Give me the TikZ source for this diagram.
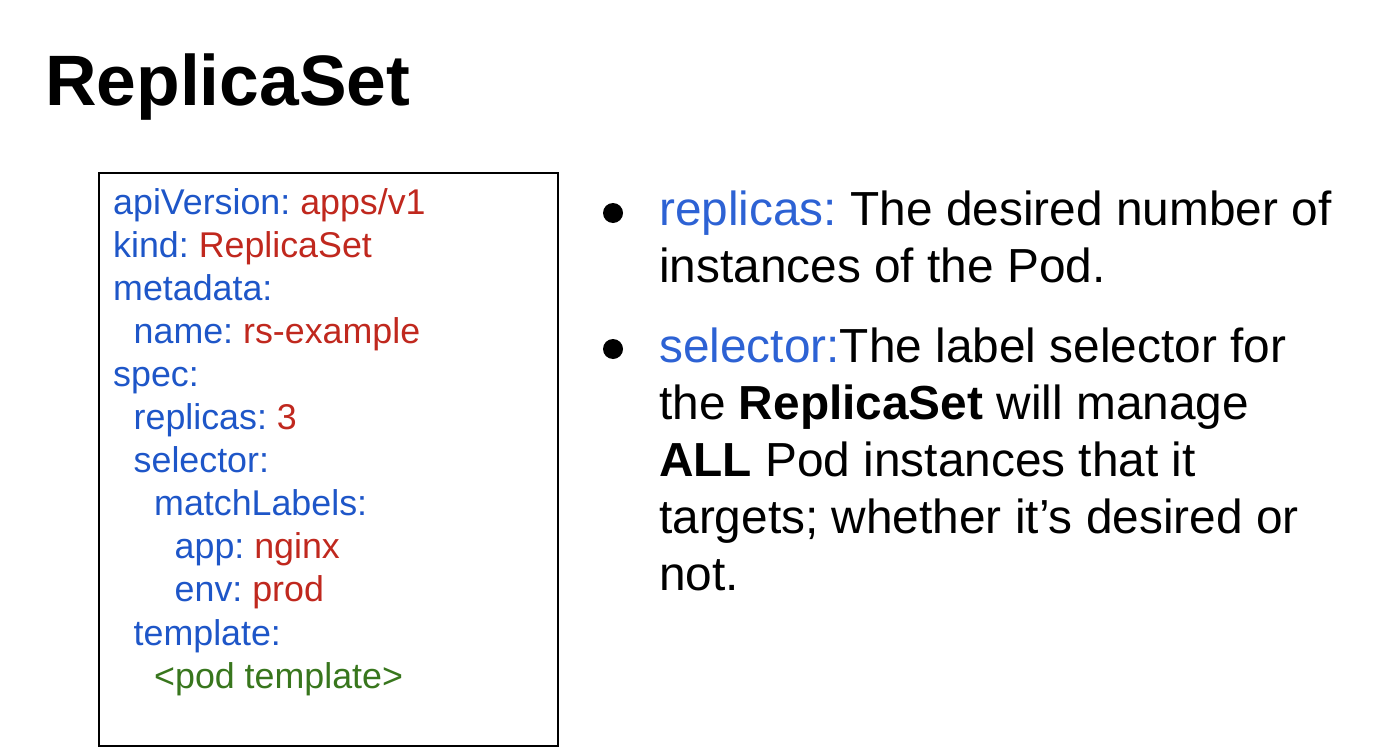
\documentclass[tikz,border=0pt]{standalone}
\usepackage{fontspec}
\setmainfont{Liberation Sans}
\usetikzlibrary{positioning}
\frenchspacing
\definecolor{keyblue}{RGB}{30,86,200}
\definecolor{valred}{RGB}{192,40,30}
\definecolor{tmplgreen}{RGB}{56,118,29}
\definecolor{bulletblue}{RGB}{45,98,212}
\newcommand{\yk}[1]{\textcolor{keyblue}{#1}}
\newcommand{\yv}[1]{\textcolor{valred}{#1}}

\begin{document}
\begin{tikzpicture}[x=1pt,y=-1pt,
	codeline/.style={anchor=base west,inner sep=0pt,font=\fontsize{35.8}{43}\selectfont},
	bullettext/.style={anchor=base west,inner sep=0pt,align=left,font=\fontsize{47.8}{57.2}\selectfont},
	dot/.style={circle,fill=black,inner sep=0pt,minimum size=20}]
			%%%%% START %%%%%
			\def\codex{113}
			\def\codey{214}
			\def\codeskip{43.1}
			\def\tab{20.5}
			\def\textx{659}
			\def\dotx{613}
			\def\textskip{57.2}
			
			\useasboundingbox (0,0) rectangle (1376,752);
			
			\node[anchor=base west,inner sep=0pt,font=\fontsize{71.4}{80}\selectfont\bfseries] (title) at (45,105) {ReplicaSet};
			
			\draw[line width=2] (99,173) rectangle (558,746);
			
			\node[codeline] (api) at (\codex,\codey) {\yk{apiVersion:} \yv{apps/v1}};
			\node[codeline] (kind) at (\codex,\codey+\codeskip) {\yk{kind:} \yv{ReplicaSet}};
			\node[codeline] (meta) at (\codex,\codey+2*\codeskip) {\yk{metadata:}};
			\node[codeline] (name) at (\codex+\tab,\codey+3*\codeskip) {\yk{name:} \yv{rs-example}};
			\node[codeline] (spec) at (\codex,\codey+4*\codeskip) {\yk{spec:}};
			\node[codeline] (repl) at (\codex+\tab,\codey+5*\codeskip) {\yk{replicas:} \yv{3}};
			\node[codeline] (sel) at (\codex+\tab,\codey+6*\codeskip) {\yk{selector:}};
			\node[codeline] (match) at (\codex+2*\tab,\codey+7*\codeskip) {\yk{matchLabels:}};
			\node[codeline] (app) at (\codex+3*\tab,\codey+8*\codeskip) {\yk{app:} \yv{nginx}};
			\node[codeline] (env) at (\codex+3*\tab,\codey+9*\codeskip) {\yk{env:} \yv{prod}};
			\node[codeline] (tmpl) at (\codex+\tab,\codey+10*\codeskip) {\yk{template:}};
			\node[codeline,text=tmplgreen] (pod) at (\codex+2*\tab,\codey+11*\codeskip) {<pod template>};
			
			%bullets (base is the last line)
			\node[dot] (d1) at (\dotx,213) {};
			\node[bullettext] (b1) at (\textx,225+\textskip) {\textcolor{bulletblue}{replicas:} The desired number of\\instances of the Pod.};
			
			\node[dot] (d2) at (\dotx,349) {};
			\node[bullettext] (b2) at (\textx,362+4*\textskip) {\textcolor{bulletblue}{selector:}The label selector for\\the \textbf{ReplicaSet} will manage\\\textbf{ALL} Pod instances that it\\targets; whether it’s desired or\\not.};
			%%%%% START %%%%%
\end{tikzpicture}
\end{document}
